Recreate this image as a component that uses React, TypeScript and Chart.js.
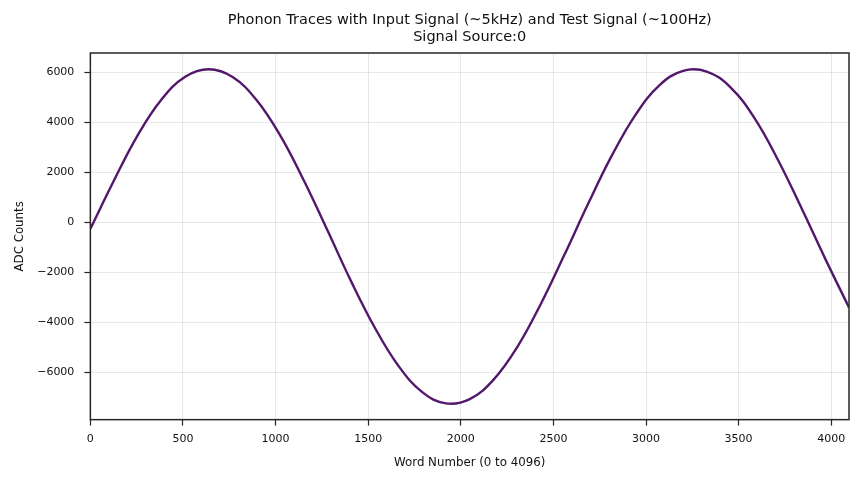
import React, { useEffect, useRef } from "react";
import { Chart, registerables } from "chart.js";

Chart.register(...registerables);

// Word number samples (every 128 words) and ADC counts
const wordNumbers = [
  0, 128, 256, 384, 512, 640, 768, 896, 1024, 1152, 1280, 1408, 1536, 1664,
  1792, 1920, 2048, 2176, 2304, 2432, 2560, 2688, 2816, 2944, 3072, 3200,
  3328, 3456, 3584, 3712, 3840, 3968, 4096,
];
const adcCounts = [
  -260, 1680, 3480, 4900, 5810, 6110, 5800, 4890, 3480, 1680, -320, -2360,
  -4210, -5740, -6780, -7230, -7060, -6290, -4990, -3260, -1290, 750, 2670,
  4300, 5470, 6050, 6020, 5390, 4180, 2500, 560, -1460, -3400,
];

const xTicks = [0, 500, 1000, 1500, 2000, 2500, 3000, 3500, 4000];
const yTicks = [-6000, -4000, -2000, 0, 2000, 4000, 6000];

const titleLines = [
  "Phonon Traces with Input Signal (~5kHz) and Test Signal (~100Hz)",
  "Signal Source:0",
];

const FONT = "'DejaVu Sans', sans-serif";

// draw the full box around the plot area, like matplotlib's spines,
// and the title centred over the plot area (not the whole canvas)
const framePlugin = {
  id: "frame",
  afterDraw(chart: any) {
    const { ctx, chartArea } = chart;
    ctx.save();
    ctx.strokeStyle = "#262626";
    ctx.lineWidth = 1.5;
    ctx.strokeRect(
      chartArea.left,
      chartArea.top,
      chartArea.right - chartArea.left,
      chartArea.bottom - chartArea.top
    );
    ctx.fillStyle = "#111";
    ctx.font = `14.5px ${FONT}`;
    ctx.textAlign = "center";
    ctx.textBaseline = "middle";
    const cx = (chartArea.left + chartArea.right) / 2;
    titleLines.forEach((line, i) => ctx.fillText(line, cx, 20 + i * 17));
    ctx.restore();
  },
};

const fmt = (v: number) => (v < 0 ? "\u2212" + Math.abs(v) : String(v));

const App: React.FC = () => {
  const canvasRef = useRef<HTMLCanvasElement | null>(null);

  useEffect(() => {
    if (!canvasRef.current) return;
    const chart = new Chart(canvasRef.current, {
      type: "line",
      data: {
        datasets: [
          {
            data: wordNumbers.map((x, i) => ({ x, y: adcCounts[i] })),
            borderColor: "#53176b",
            borderWidth: 2.4,
            pointRadius: 0,
            tension: 0.4,
            fill: false,
          },
        ],
      },
      options: {
        animation: false,
        responsive: false,
        devicePixelRatio: 1,
        layout: { padding: { left: 13, right: 17, top: 53, bottom: 12 } },
        plugins: {
          legend: { display: false },
          tooltip: { enabled: false },
          title: { display: false },
        },
        scales: {
          x: {
            type: "linear",
            min: 0,
            max: 4096,
            afterBuildTicks: (axis: any) => {
              axis.ticks = xTicks.map((v) => ({ value: v }));
            },
            ticks: {
              color: "#111",
              font: { family: FONT, size: 11 },
              maxRotation: 0,
              padding: 7,
              callback: (v: any) => fmt(Number(v)),
            },
            grid: {
              color: "rgba(0,0,0,0.09)",
              lineWidth: 1,
              tickColor: "#262626",
              tickLength: 6,
              tickWidth: 1.2,
            },
            border: { display: false },
            title: {
              display: true,
              text: "Word Number (0 to 4096)",
              color: "#111",
              font: { family: FONT, size: 11.8 },
              padding: { top: 3, bottom: 0 },
            },
          },
          y: {
            type: "linear",
            min: -7880,
            max: 6760,
            afterBuildTicks: (axis: any) => {
              axis.ticks = yTicks.map((v) => ({ value: v }));
            },
            ticks: {
              color: "#111",
              font: { family: FONT, size: 11 },
              padding: 10,
              callback: (v: any) => fmt(Number(v)),
            },
            grid: {
              color: "rgba(0,0,0,0.09)",
              lineWidth: 1,
              tickColor: "#262626",
              tickLength: 6,
              tickWidth: 1.2,
            },
            border: { display: false },
            title: {
              display: true,
              text: "ADC Counts",
              color: "#111",
              font: { family: FONT, size: 11.8 },
              padding: { top: 0, bottom: 0 },
            },
          },
        },
      },
      plugins: [framePlugin],
    });
    return () => chart.destroy();
  }, []);

  return (
    <div style={{ position: "absolute", left: 0, top: 0, width: 866, height: 482, background: "#fff" }}>
      <canvas ref={canvasRef} width={866} height={482} />
    </div>
  );
};

export default App;
